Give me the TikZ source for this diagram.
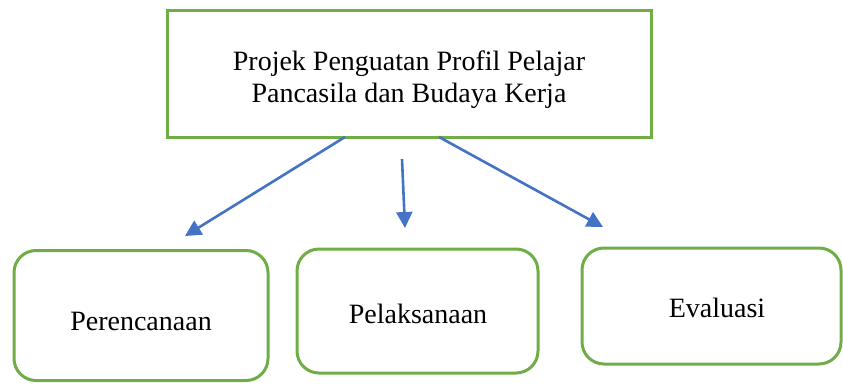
\documentclass[tikz,border=0pt]{standalone}
\usepackage{fontspec}
\setmainfont{Liberation Serif}
\usetikzlibrary{arrows.meta}
\definecolor{boxgreen}{HTML}{70AD47}
\definecolor{arrowblue}{HTML}{4472C4}
\begin{document}
\begin{tikzpicture}[x=1pt,y=-1pt,
  topbox/.style={draw=boxgreen,line width=3pt,minimum width=484pt,minimum height=127pt,inner sep=0pt},
  stagebox/.style={draw=boxgreen,line width=3pt,rounded corners=22pt,inner sep=0pt},
  label/.style={font=\fontsize{28}{32}\selectfont,align=center},
  flow/.style={draw=arrowblue,line width=2.6pt,-{Triangle[length=16pt,width=16pt]}}]
\useasboundingbox (0,0) rectangle (843,383);
\node[topbox] (top) at (409,73.5) {};
\node[label] (toptext) at (409,80) {Projek Penguatan Profil Pelajar\\Pancasila dan Budaya Kerja};
\node[stagebox,minimum width=254pt,minimum height=130pt] (plan) at (141,315.5) {};
\node[label] (plantext) at (141,321) {Perencanaan};
\node[stagebox,minimum width=241pt,minimum height=124pt] (do) at (417.5,311) {};
\node[label] (dotext) at (418,314) {Pelaksanaan};
\node[stagebox,minimum width=259pt,minimum height=116pt] (eval) at (711.5,306) {};
\node[label] (evaltext) at (717,308) {Evaluasi};
\coordinate (s1) at (345,137);
\coordinate (e1) at (185,236);
\coordinate (s2) at (402,159);
\coordinate (e2) at (405,228);
\coordinate (s3) at (439,137);
\coordinate (e3) at (603,227);
\draw[flow] (s1) -- (e1);
\draw[flow] (s2) -- (e2);
\draw[flow] (s3) -- (e3);
\end{tikzpicture}
\end{document}
